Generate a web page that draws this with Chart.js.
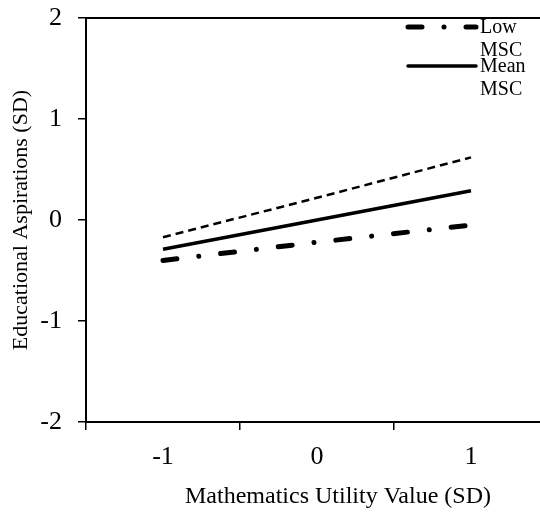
<!DOCTYPE html>
<html>
<head>
<meta charset="utf-8">
<script src="https://cdn.jsdelivr.net/npm/chart.js@4.4.1/dist/chart.umd.min.js"></script>
<style>
  html, body { margin: 0; padding: 0; background: #fff; overflow: hidden; }
  #wrap { width: 560px; height: 512px; }
</style>
</head>
<body>
<div id="wrap"><canvas id="chart1" width="560" height="512"></canvas></div>
<script>
// Veriler
const xLabels = ['-1', '0', '1'];
const lowMSC = [-0.40, -0.22, -0.05];
const meanMSC = [-0.29, 0.00, 0.29];
const highMSC = [-0.17, 0.22, 0.62];
const legendNames = [['Low', 'MSC'], ['Mean', 'MSC']];
const xTitle = 'Mathematics Utility Value (SD)';
const yTitle = 'Educational Aspirations (SD)';

const serif = "'Liberation Serif', 'Times New Roman', serif";

// Çerçeve, x başlığı ve sağ üst lejant
const boxAndLegend = {
    id: 'boxAndLegend',
    afterDraw(chart) {
        const ctx = chart.ctx;
        const a = chart.chartArea;
        ctx.save();
        ctx.strokeStyle = '#000';
        ctx.lineWidth = 2;
        ctx.beginPath();
        ctx.moveTo(a.left, a.top);
        ctx.lineTo(a.right, a.top);
        ctx.lineTo(a.right, a.bottom);
        ctx.stroke();

        // x ekseni başlığı (biraz sağa kaymış)
        ctx.fillStyle = '#000';
        ctx.font = '24px ' + serif;
        ctx.textAlign = 'center';
        ctx.textBaseline = 'middle';
        ctx.fillText(xTitle, 338, 497);

        // lejant
        [0, 1].forEach((di, i) => {
            const ds = chart.data.datasets[di];
            const y = 27 + i * 39;
            ctx.beginPath();
            ctx.lineWidth = ds.borderWidth;
            ctx.lineCap = 'round';
            ctx.setLineDash(ds.borderDash || []);
            ctx.moveTo(408, y);
            ctx.lineTo(476, y);
            ctx.stroke();
            ctx.setLineDash([]);
            ctx.font = '20px ' + serif;
            ctx.textAlign = 'left';
            ctx.fillText(legendNames[i][0], 480, y + 1);
            ctx.fillText(legendNames[i][1], 480, y + 24);
        });
        ctx.restore();
    }
};

const ctx = document.getElementById('chart1').getContext('2d');
const myChart = new Chart(ctx, {
    type: 'line',
    data: {
        labels: xLabels,
        datasets: [{
            label: 'Low MSC',
            data: lowMSC,
            borderColor: '#000',
            borderWidth: 5,
            borderDash: [14, 22, 0.01, 22],
            borderCapStyle: 'round',
            pointRadius: 0,
            tension: 0
        }, {
            label: 'Mean MSC',
            data: meanMSC,
            borderColor: '#000',
            borderWidth: 3.5,
            pointRadius: 0,
            tension: 0
        }, {
            label: 'High MSC',
            data: highMSC,
            borderColor: '#000',
            borderWidth: 2.5,
            borderDash: [8, 5],
            pointRadius: 0,
            tension: 0
        }]
    },
    options: {
        responsive: false,
        animation: false,
        layout: { padding: { top: 18, right: 12, left: 0, bottom: 0 } },
        plugins: {
            legend: { display: false },
            tooltip: { enabled: false }
        },
        scales: {
            x: {
                type: 'category',
                offset: true,
                grid: { offset: true, drawOnChartArea: false, drawTicks: true, tickLength: 8, color: '#000', lineWidth: 1.5 },
                border: { display: true, color: '#000', width: 2 },
                ticks: { color: '#000', font: { family: serif, size: 26 }, padding: 12 },
                afterFit(s) { s.height = 90; s.paddingLeft = 0; s.paddingRight = 0; }
            },
            y: {
                min: -2,
                max: 2,
                ticks: { stepSize: 1, color: '#000', font: { family: serif, size: 26 }, padding: 16 },
                grid: { drawOnChartArea: false, drawTicks: true, tickLength: 8, color: '#000', lineWidth: 1.5 },
                border: { display: true, color: '#000', width: 2 },
                title: {
                    display: true,
                    text: yTitle,
                    color: '#000',
                    font: { family: serif, size: 22 },
                    padding: { top: 8, bottom: 0 }
                },
                afterFit(s) { s.width = 86; s.paddingTop = 0; s.paddingBottom = 0; }
            }
        }
    },
    plugins: [boxAndLegend]
});
</script>
</body>
</html>
